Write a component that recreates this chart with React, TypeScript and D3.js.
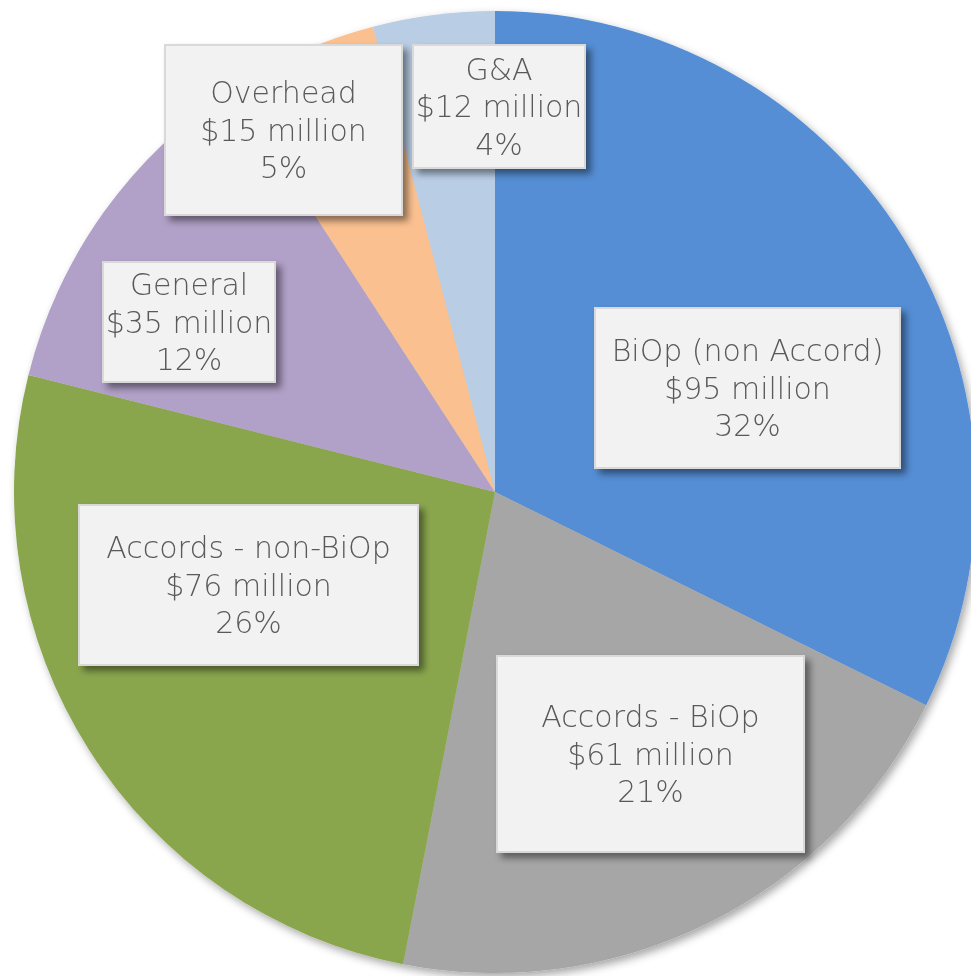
import React, {useRef, useEffect} from "react"
import * as d3 from "d3"

const categories = ["BiOp (non Accord)", "Accords - BiOp", "Accords - non-BiOp", "General", "Overhead", "G&A"]
const amounts = [95, 61, 76, 35, 15, 12]
const percents = ["32%", "21%", "26%", "12%", "5%", "4%"]
const colors = ["#558ED5", "#A6A6A6", "#8AA64E", "#B1A0C7", "#FAC090", "#B9CDE5"]

// label box placement (x, y, w, h) in page px
const boxes = [
    [595, 308, 305, 160],
    [497, 656, 307, 196],
    [79, 505, 339, 160],
    [103, 262, 172, 120],
    [165, 45, 237, 170],
    [413, 45, 172, 123],
]

const App = () => {
    let element = useRef(null)

    useEffect(() => {
        const width = 971, height = 976
        const cx = 495, cy = 492, r = 481

        let svg = d3.select(element.current)
            .append("svg")
                .attr("width", width)
                .attr("height", height)
                .style("position", "fixed")
                .style("left", 0)
                .style("top", 0)

        let defs = svg.append("defs")
        defs.append("filter").attr("id", "pieShadow")
            .attr("x", "-10%").attr("y", "-10%").attr("width", "120%").attr("height", "120%")
            .append("feDropShadow")
                .attr("dx", 3).attr("dy", 4).attr("stdDeviation", 4)
                .attr("flood-color", "#000").attr("flood-opacity", 0.35)
        defs.append("filter").attr("id", "boxShadow")
            .attr("x", "-10%").attr("y", "-10%").attr("width", "130%").attr("height", "135%")
            .append("feDropShadow")
                .attr("dx", 5).attr("dy", 5).attr("stdDeviation", 3.5)
                .attr("flood-color", "#000").attr("flood-opacity", 0.45)

        let pie = d3.pie().sort(null).value(d => d)
        let arc = d3.arc().innerRadius(0).outerRadius(r)
        let arcs = pie(amounts)

        svg.append("g")
            .attr("transform", "translate(" + cx + "," + cy + ")")
            .attr("filter", "url(#pieShadow)")
            .selectAll("path")
            .data(arcs)
            .enter()
            .append("path")
                .attr("d", arc)
                .attr("fill", (d, i) => colors[i])

        let labels = svg.append("g")
        categories.forEach((cat, i) => {
            let [bx, by, bw, bh] = boxes[i]
            let g = labels.append("g")
            g.append("rect")
                .attr("x", bx).attr("y", by)
                .attr("width", bw).attr("height", bh)
                .attr("fill", "#F2F2F2")
                .attr("stroke", "#D9D9D9")
                .attr("stroke-width", 2)
                .attr("filter", "url(#boxShadow)")
            let lines = [cat, "$" + amounts[i] + " million", percents[i]]
            let midY = by + bh / 2
            lines.forEach((t, j) => {
                g.append("text")
                    .attr("x", bx + bw / 2)
                    .attr("y", midY + (j - 1) * 37.5)
                    .attr("dy", "0.36em")
                    .attr("text-anchor", "middle")
                    .attr("font-family", "'DejaVu Sans', sans-serif")
                    .attr("font-size", 30)
                    .attr("font-weight", 300)
                    .attr("fill", "#595959")
                    .text(t)
            })
        })

        return () => {
            if(element.current) {
                for(let child of element.current.children) {
                    child.remove()
                }
            }
        }
    })

    return (
        <div ref={element}></div>
    )
}

export default App
